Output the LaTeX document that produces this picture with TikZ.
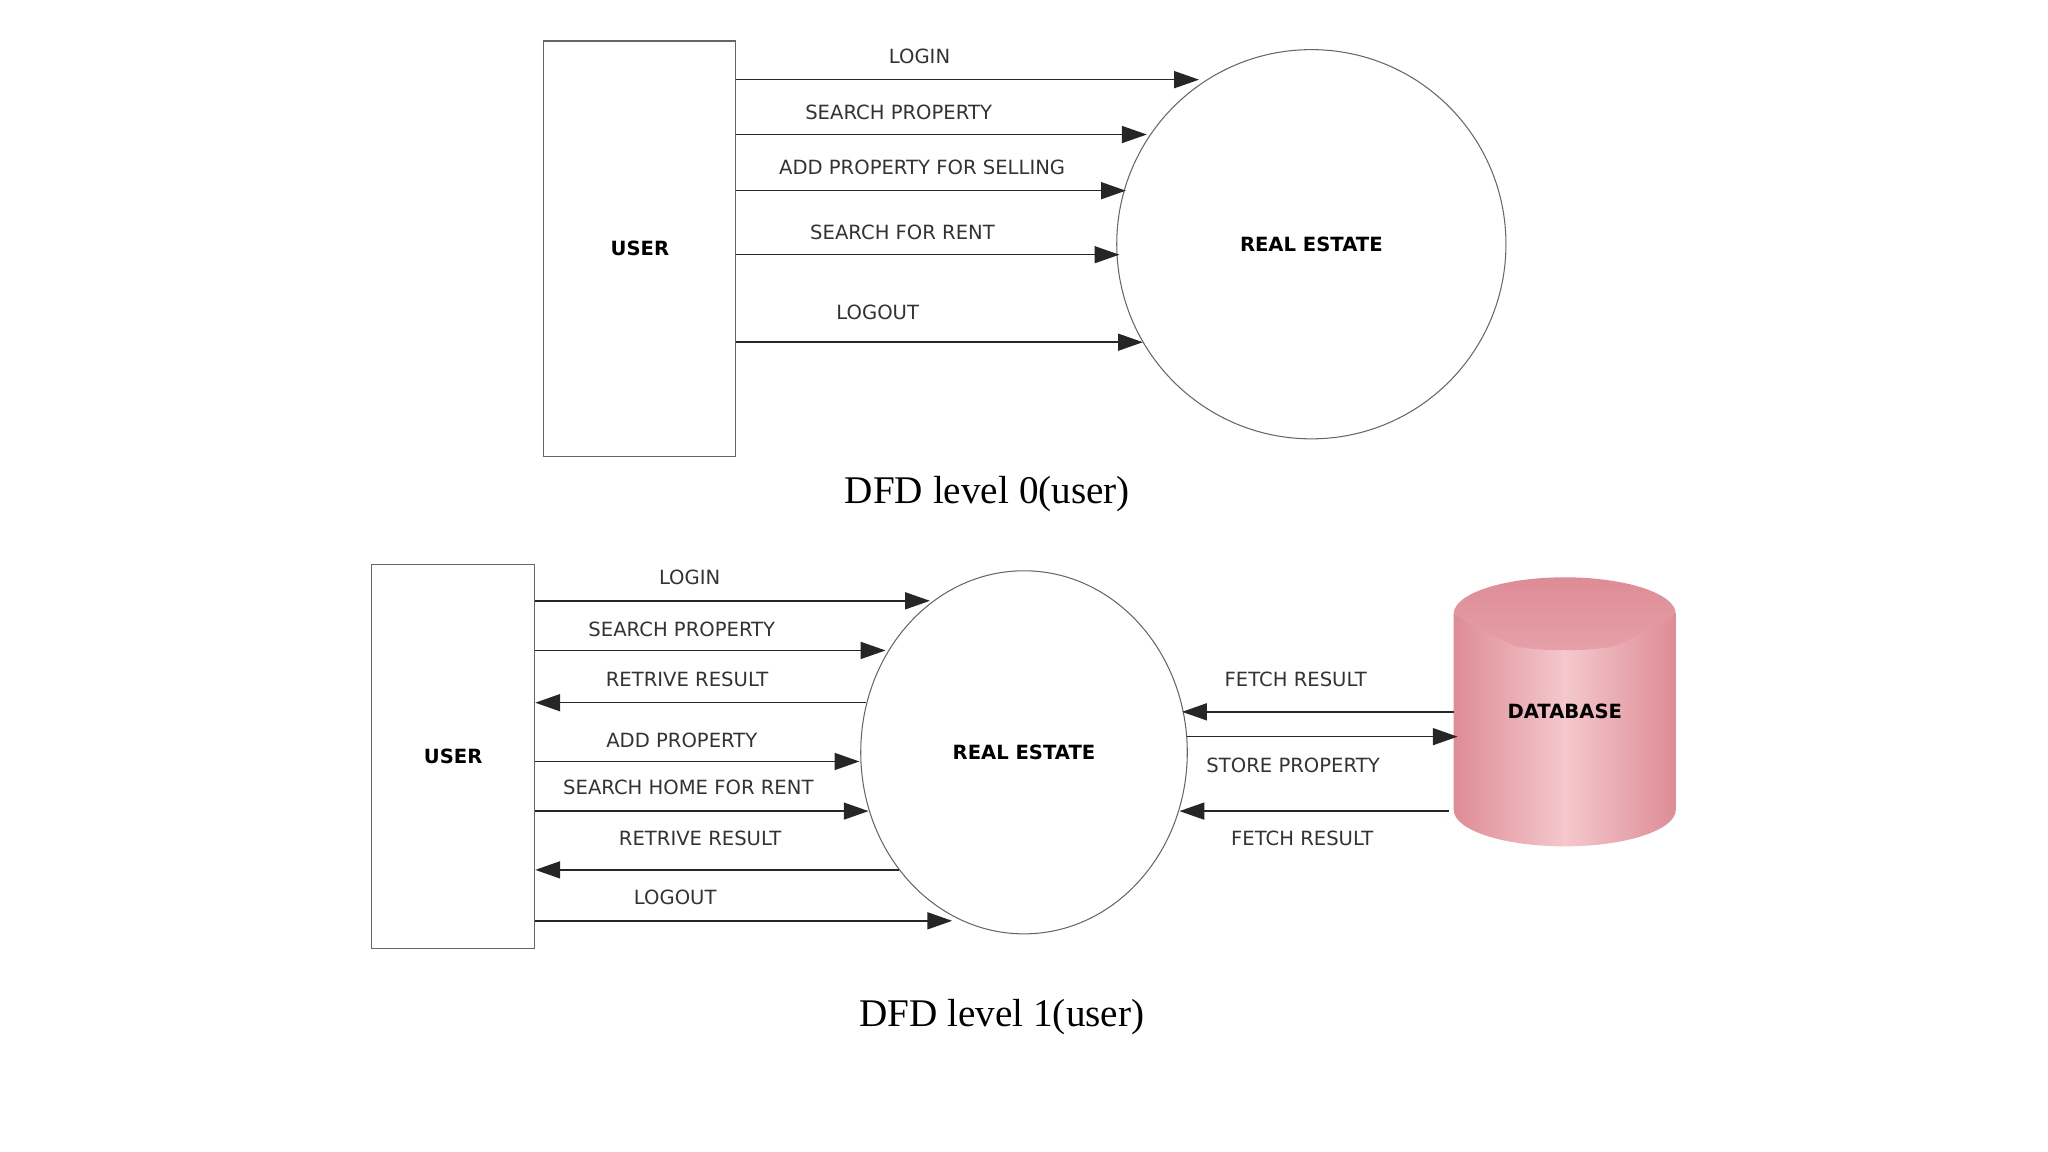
\documentclass[tikz,border=0pt]{standalone}
\usepackage{fontspec}
\setmainfont{Liberation Serif}
\newfontfamily\lblfont{DejaVu Sans}
\usetikzlibrary{arrows.meta,shapes.geometric}
\definecolor{dbdark}{RGB}{222,140,150}
\definecolor{dblight}{RGB}{244,200,204}
\definecolor{dbtop}{RGB}{230,160,168}
\begin{document}
\begin{tikzpicture}[x=1pt,y=-1pt,
  lbl/.style={font=\lblfont\fontsize{15}{18}\selectfont, text=black!80, inner sep=0pt},
  bold/.style={font=\lblfont\bfseries\fontsize{15}{18}\selectfont, inner sep=0pt},
  captxt/.style={font=\fontsize{30}{35}\selectfont, inner sep=0pt},
  arr/.style={-{Triangle[length=19pt,width=13pt]}, line width=1.2pt, black!85},
  box/.style={draw=black!60, line width=0.8pt}]
\useasboundingbox (0,0) rectangle (1568,882);
% Level 0
\node[box, minimum width=147pt, minimum height=318pt, anchor=north west] (u0) at (416,31) {};
\node[bold] at (u0.center) {USER};
\node[box, circle, minimum size=298pt] (r0) at (1004,187) {};
\node[bold] at (r0.center) {REAL ESTATE};
\draw[arr] (u0.east|-0,61) -- (918,61);
\draw[arr] (u0.east|-0,103) -- (878,103);
\draw[arr] (u0.east|-0,146) -- (862,146);
\draw[arr] (u0.east|-0,195) -- (857,195);
\draw[arr] (u0.east|-0,262) -- (875,262);
\node[lbl] at (704,43) {LOGIN};
\node[lbl] at (688,86) {SEARCH PROPERTY};
\node[lbl] at (706,128) {ADD PROPERTY FOR SELLING};
\node[lbl] at (691,178) {SEARCH FOR RENT};
\node[lbl] at (672,239) {LOGOUT};
\node[captxt] (c0) at (756,378) {DFD level 0(user)};
% Level 1
\node[box, minimum width=125pt, minimum height=294pt, anchor=north west] (u1) at (284,432) {};
\node[bold] at (u1.center) {USER};
\node[box, ellipse, minimum width=250pt, minimum height=278pt] (r1) at (784,576) {};
\node[bold] at (r1.center) {REAL ESTATE};
\draw[arr] (u1.east|-0,460) -- (712,460);
\draw[arr] (u1.east|-0,498) -- (678,498);
\draw[arr] (663,538) -- (u1.east|-0,538);
\draw[arr] (u1.east|-0,583) -- (658,583);
\draw[arr] (u1.east|-0,621) -- (665,621);
\draw[arr] (688,666) -- (u1.east|-0,666);
\draw[arr] (u1.east|-0,705) -- (729,705);
\node[lbl] at (528,442) {LOGIN};
\node[lbl] at (522,482) {SEARCH PROPERTY};
\node[lbl] at (526,520) {RETRIVE RESULT};
\node[lbl] at (522,567) {ADD PROPERTY};
\node[lbl] at (527,603) {SEARCH HOME FOR RENT};
\node[lbl] at (536,642) {RETRIVE RESULT};
\node[lbl] at (517,687) {LOGOUT};
% Database
\shade[left color=dbdark, right color=dbdark, middle color=dblight]
  (1113,470) -- (1113,620) arc[start angle=180,end angle=0,x radius=85,y radius=28] -- (1283,470) -- cycle;
\shade[top color=dbdark, bottom color=dbtop] (1198,470) ellipse[x radius=85, y radius=28];
\shade[left color=dbdark, right color=dbdark, middle color=dblight] (1113,470) .. controls (1150,495) and (1180,500) .. (1198,510) .. controls (1216,500) and (1246,495) .. (1283,470) arc[start angle=0,end angle=180,x radius=85,y radius=28];
\node[bold] (db) at (1198,545) {DATABASE};
\draw[arr] (1113,545) -- (905,545);
\draw[arr] (909,564) -- (1116,564);
\draw[arr] (1109,621) -- (903,621);
\node[lbl] at (992,520) {FETCH RESULT};
\node[lbl] at (990,586) {STORE PROPERTY};
\node[lbl] at (997,642) {FETCH RESULT};
\node[captxt] (c1) at (767,779) {DFD level 1(user)};
\end{tikzpicture}
\end{document}
